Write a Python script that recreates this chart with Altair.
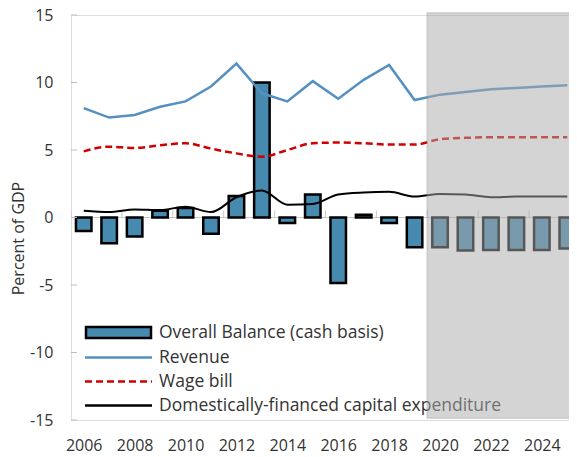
import altair as alt
import pandas as pd

years = list(range(2006, 2026))
balance = [-1.0, -1.9, -1.4, 0.5, 0.7, -1.2, 1.6, 10.0, -0.4, 1.7,
           -4.85, 0.2, -0.4, -2.2, -2.2, -2.45, -2.4, -2.4, -2.4, -2.3]
revenue = [8.1, 7.4, 7.6, 8.2, 8.6, 9.7, 11.4, 9.2, 8.6, 10.1,
           8.8, 10.2, 11.3, 8.7, 9.1, 9.3, 9.5, 9.6, 9.7, 9.8]
wage = [4.9, 5.25, 5.15, 5.35, 5.5, 5.1, 4.75, 4.5, 5.0, 5.5,
        5.55, 5.5, 5.4, 5.4, 5.8, 5.9, 5.95, 5.95, 5.95, 5.95]
capex = [0.5, 0.4, 0.6, 0.55, 0.8, 0.4, 1.5, 2.0, 0.95, 1.0,
         1.7, 1.85, 1.9, 1.55, 1.75, 1.7, 1.5, 1.55, 1.55, 1.55]
y_ticks = [-15, -10, -5, 0, 5, 10, 15]
x_labels = [2006, 2008, 2010, 2012, 2014, 2016, 2018, 2020, 2022, 2024]
x_minor = [2005.5, 2007.5, 2009.5, 2011.5, 2013.5, 2015.5, 2017.5,
           2019.5, 2021.5, 2023.5, 2025.5]
legend_labels = ["Overall Balance (cash basis)", "Revenue", "Wage bill",
                 "Domestically-financed capital expenditure"]
projection_start = 2019.5

df = pd.DataFrame({"year": years, "balance": balance, "revenue": revenue,
                   "wage": wage, "capex": capex})
one = pd.DataFrame({"k": [0]})

BAR = "#468ab0"
REV = "#5590c2"
WAGE = "#d00000"
FONT = "Open Sans"
TXT = "#333333"
FS = 16

W = 498
xs = alt.Scale(domain=[2005.5, 2005.5 + W / 25.45], nice=False, zero=False, padding=0)
ys = alt.Scale(domain=[-15, 15], nice=False, zero=False, padding=0)

xax = alt.Axis(values=x_labels, format="d", grid=False, domain=False, ticks=False,
               labelFontSize=FS, labelColor=TXT, labelFont=FONT, labelPadding=17, title=None)
yax = alt.Axis(values=y_ticks, grid=False, domain=False, ticks=False,
               labelExpr="'' + datum.value",
               labelFontSize=FS, labelColor=TXT, labelFont=FONT, labelPadding=18,
               title="Percent of GDP", titleFontSize=FS, titleFont=FONT, titleColor=TXT,
               titleFontWeight="normal", titleAngle=270, titleX=-53, titleY=223,
               titleAlign="center", titleBaseline="middle")

base = alt.Chart(df)

zero_line = alt.Chart(pd.DataFrame({"v": [0]})).mark_rule(color="#c8c8c8", strokeWidth=1).encode(
    y=alt.Y("v:Q", scale=ys, axis=yax),
    x=alt.value(0), x2=alt.value(W))

minor = alt.Chart(pd.DataFrame({"x": x_minor})).mark_rule(color="#c8c8c8", strokeWidth=1,
                                                           clip=True).encode(
    x=alt.X("x:Q", scale=xs, axis=xax),
    y=alt.datum(0), y2=alt.datum(0.52))

bars = base.mark_bar(size=15.5, color=BAR, stroke="black", strokeWidth=2.5, clip=True).encode(
    x=alt.X("year:Q", scale=xs, axis=xax),
    y=alt.Y("balance:Q", scale=ys, axis=yax),
    y2=alt.datum(0))

rev_line = base.mark_line(color=REV, strokeWidth=2.5, clip=True).encode(
    x=alt.X("year:Q", scale=xs), y=alt.Y("revenue:Q", scale=ys))
wage_line = base.mark_line(color=WAGE, strokeWidth=2.5, strokeDash=[7, 4],
                           interpolate="monotone", clip=True).encode(
    x=alt.X("year:Q", scale=xs), y=alt.Y("wage:Q", scale=ys))
capex_line = base.mark_line(color="black", strokeWidth=2,
                            interpolate="monotone", clip=True).encode(
    x=alt.X("year:Q", scale=xs), y=alt.Y("capex:Q", scale=ys))

yticks = alt.Chart(pd.DataFrame({"v": y_ticks})).mark_rule(color="#bfbfbf", strokeWidth=1).encode(
    y=alt.Y("v:Q", scale=ys), x=alt.value(0), x2=alt.value(6))

# manual legend (drawn beneath the projection shading)
leg_rect = alt.Chart(one).mark_rect(fill=BAR, stroke="black", strokeWidth=2.5).encode(
    x=alt.value(15), x2=alt.value(80), y=alt.value(312), y2=alt.value(323))
leg_rev = alt.Chart(one).mark_rule(color=REV, strokeWidth=2.5).encode(
    x=alt.value(14), x2=alt.value(81), y=alt.value(342.5))
leg_wage = alt.Chart(one).mark_rule(color=WAGE, strokeWidth=2.5, strokeDash=[7, 4]).encode(
    x=alt.value(14), x2=alt.value(81), y=alt.value(366.5))
leg_cap = alt.Chart(one).mark_rule(color="black", strokeWidth=2.5).encode(
    x=alt.value(14), x2=alt.value(81), y=alt.value(390.5))
leg_y = [317.5, 342.5, 366.5, 390.5]
leg_text = [alt.Chart(one).mark_text(text=t, align="left", baseline="middle", font=FONT,
                                      fontSize=17.5, color=TXT).encode(
    x=alt.value(88), y=alt.value(yy)) for t, yy in zip(legend_labels, leg_y)]

shade = alt.Chart(one).mark_rect(fill="#ababab", opacity=0.51, stroke="#999999",
                                 strokeWidth=1.5).encode(
    x=alt.datum(projection_start, scale=xs), x2=alt.value(W + 10),
    y=alt.value(-2), y2=alt.value(403))

chart = alt.layer(zero_line, minor, bars, rev_line, wage_line, capex_line, yticks,
                  leg_rect, leg_rev, leg_wage, leg_cap, *leg_text, shade).properties(
    width=W, height=405,
    padding={"left": 63, "top": 7, "right": 0, "bottom": 36},
    autosize=alt.AutoSizeParams(type="none"),
).configure_view(stroke="#bfbfbf", strokeWidth=1).configure(font=FONT)

chart.save("out.html", embed_options={"renderer": "svg", "actions": False})
